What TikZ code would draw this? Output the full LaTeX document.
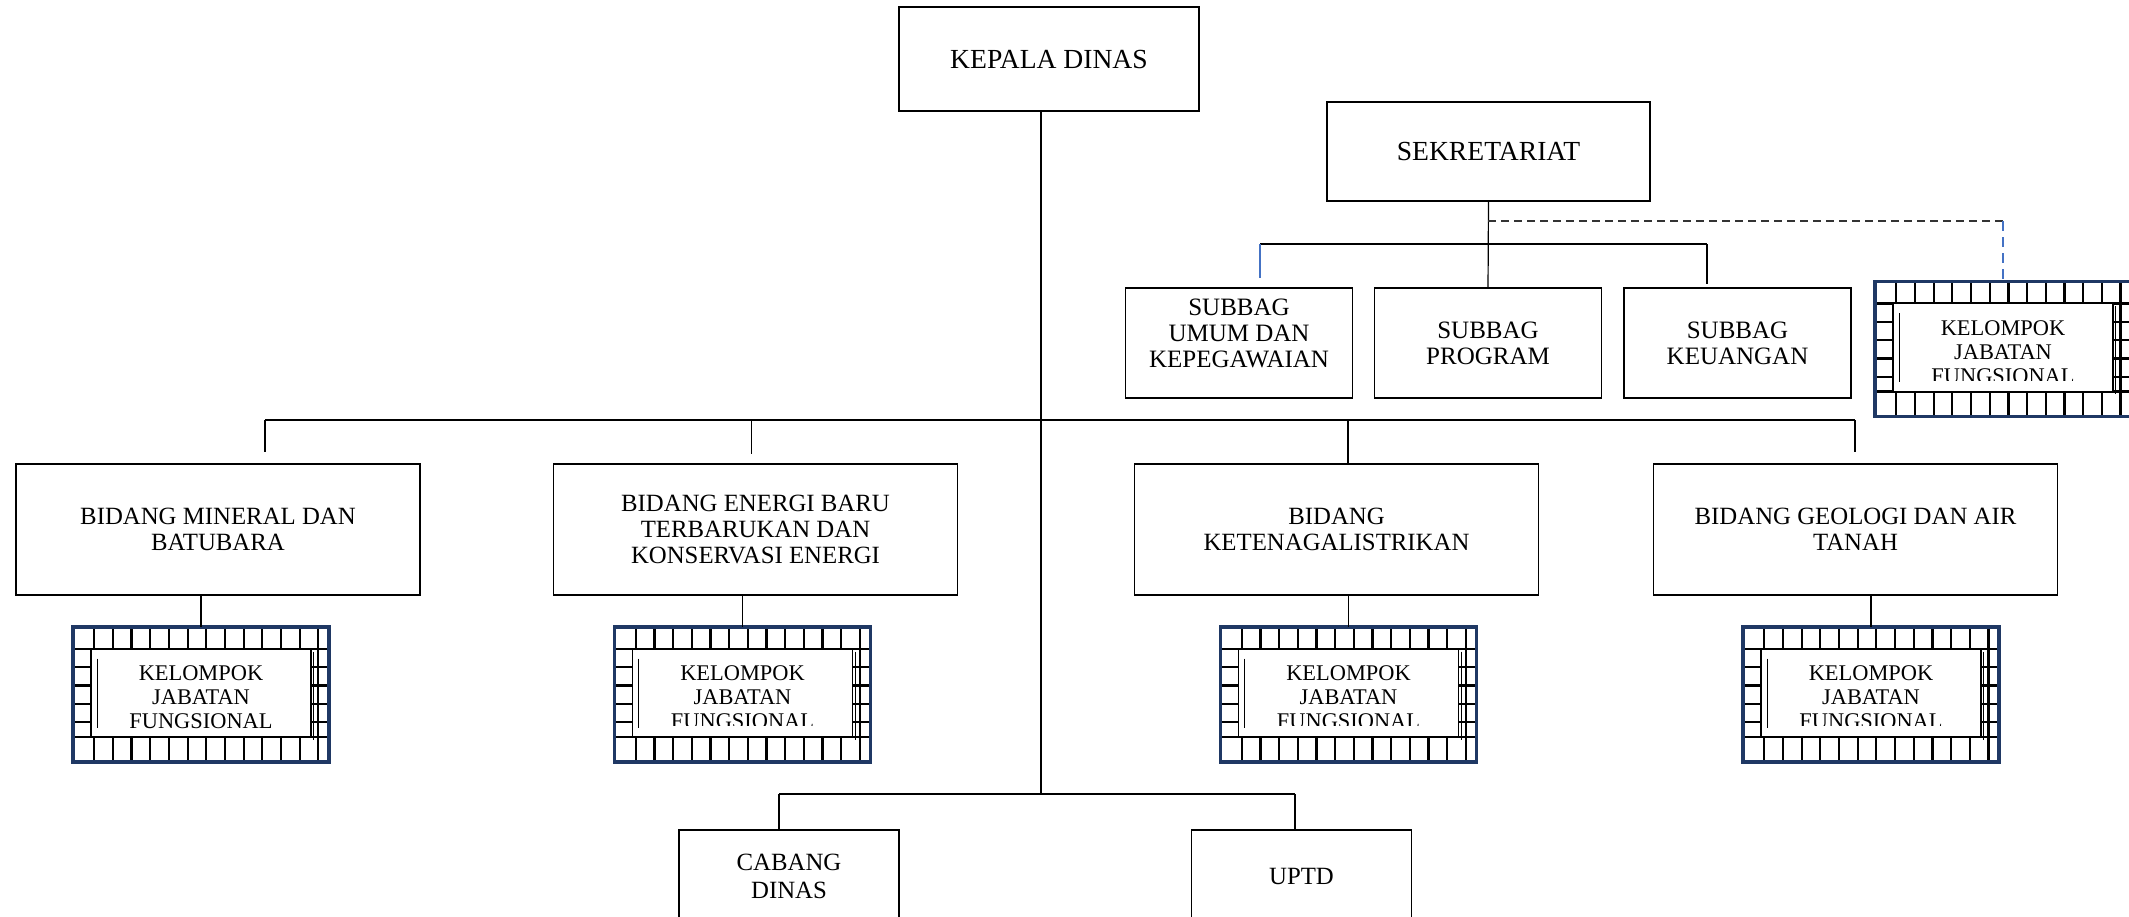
\documentclass[tikz,border=0pt]{standalone}
\usepackage{fontspec}
\setmainfont{Liberation Serif}
\usetikzlibrary{calc}
\definecolor{jfnavy}{RGB}{31,56,100}
\definecolor{jfblue}{RGB}{68,114,196}
% kelompok jabatan fungsional: name, centre, bottom of the text window
\def\jabfung[#1](#2,#3)(#4){%
  \node[jfframe] (#1) at (#2,#3) {};
  \begin{scope}
    \clip (#1.north west) rectangle (#1.south east);
    \foreach \i in {0,...,12}
      \draw[jfgrid] ($(#1.north west)+(21.3+\i*18.67,0)$) -- ++(0,135);
    \foreach \j in {0,...,4}
      \draw[jfgrid] ($(#1.north west)+(0,22+\j*18.3)$) -- ++(256,0);
    \draw[jfgrid] ($(#1.north west)+(0,110)$) -- ++(256,0);
  \end{scope}
  \draw[jfborder] (#1.north west) rectangle (#1.south east);
  \draw[jfinner] ($(#1.center)+(-110,-45.5)$) rectangle ($(#1.center)+(110,42.5)$);
  \draw[line width=0.5pt] ($(#1.center)+(112.5,-43)$) -- ++(0,88);
  \draw[line width=0.5pt] ($(#1.center)+(-104,-36)$) -- ++(0,69);
  \begin{scope}
    \clip ($(#1.center)+(-110,-45.5)$) rectangle ($(#1.center)+(110,#4)$);
    \node[jftext] (#1txt) at ($(#1.center)+(0,3)$) {KELOMPOK\\JABATAN\\FUNGSIONAL};
  \end{scope}
}

\begin{document}
\begin{tikzpicture}[x=0.5pt,y=-0.5pt,
    box/.style={draw,line width=0.7pt,inner sep=0pt,outer sep=0pt,align=center},
    topbox/.style={box,font=\fontsize{13.8}{16}\selectfont},
    subbox/.style={box,minimum width=113.5pt,minimum height=55pt,font=\fontsize{12.5}{13}\selectfont},
    bidbox/.style={box,minimum width=202pt,minimum height=65.5pt,font=\fontsize{12.4}{12.8}\selectfont},
    lowbox/.style={box,minimum width=110pt,minimum height=46pt,font=\fontsize{12.4}{14}\selectfont},
    jfframe/.style={rectangle,fill=white,inner sep=0pt,outer sep=0pt,minimum width=128pt,minimum height=67.5pt},
    jfgrid/.style={line width=1.15pt,black},
    jfborder/.style={line width=1.8pt,jfnavy},
    jfinner/.style={line width=0.8pt,fill=white},
    jftext/.style={align=center,inner sep=0pt,font=\fontsize{11.2}{12}\selectfont},
    link/.style={line width=0.6pt}]
  %%%%% START %%%%%
  \clip (0,0) rectangle (2129,916);

  \node[topbox,minimum width=150pt,minimum height=52pt] (kepala) at (1049,59) {KEPALA DINAS};
  \node[topbox,minimum width=161.5pt,minimum height=49.5pt] (sekretariat) at (1488.5,151.5) {SEKRETARIAT};

  \node[subbox,text depth=10pt] (umum) at (1239,343) {SUBBAG\\UMUM DAN\\KEPEGAWAIAN};
  \node[subbox] (program) at (1488,343) {SUBBAG\\PROGRAM};
  \node[subbox] (keuangan) at (1737.5,343) {SUBBAG\\KEUANGAN};
  \jabfung[jfsekre](2003,349)(31)

  \node[bidbox] (mineral) at (218,529.5) {BIDANG MINERAL DAN\\BATUBARA};
  \node[bidbox] (energi) at (755.5,529.5) {BIDANG ENERGI BARU\\TERBARUKAN DAN\\KONSERVASI ENERGI};
  \node[bidbox] (listrik) at (1336.5,529.5) {BIDANG\\KETENAGALISTRIKAN};
  \node[bidbox] (geologi) at (1855.5,529.5) {BIDANG GEOLOGI DAN AIR\\TANAH};

  \jabfung[jfmineral](201,694.5)(42.5)
  \jabfung[jfenergi](742.5,694.5)(30.5)
  \jabfung[jflistrik](1348.5,694.5)(30.5)
  \jabfung[jfgeologi](1871,694.5)(30.5)

  \node[lowbox] (cabang) at (789,876) {CABANG\\DINAS};
  \node[lowbox] (uptd) at (1301.5,876) {UPTD};

  % garis komando
  \coordinate (trunk) at (1041,794);
  \coordinate (busL) at (265,420);
  \coordinate (busR) at (1855,420);
  \draw[link] (kepala.south -| trunk) -- (trunk);
  \draw[link] (busL) -- (busR);
  \draw[link,shorten >=6pt] (busL) -- (busL |- mineral.north);
  \draw[link,shorten >=5pt] ([xshift=-2pt]energi.north |- busL) -- ([xshift=-2pt]energi.north);
  \draw[link] ([xshift=5.75pt]listrik.north |- busL) -- ([xshift=5.75pt]listrik.north);
  \draw[link,shorten >=6pt] (busR) -- (busR |- geologi.north);

  \draw[link] (mineral.south -| jfmineral.north) -- (jfmineral.north);
  \draw[link] (energi.south -| jfenergi.north) -- (jfenergi.north);
  \draw[link] (listrik.south -| jflistrik.north) -- (jflistrik.north);
  \draw[link] (geologi.south -| jfgeologi.north) -- (jfgeologi.north);

  % sekretariat
  \coordinate (sbusL) at (1260,244);
  \coordinate (sbusR) at (1707,244);
  \coordinate (dash) at (1488,221);
  \draw[link] (sekretariat.south) -- (program.north);
  \draw[link] (sbusL) -- (sbusR);
  \draw[link,jfblue,shorten >=5pt] (sbusL) -- (sbusL |- umum.north);
  \draw[link,shorten >=2pt] (sbusR) -- (sbusR |- keuangan.north);
  \draw[link,black!80,dash pattern=on 4pt off 2.5pt] (dash) -- (dash -| jfsekre.north);
  \draw[link,jfblue,dash pattern=on 5pt off 3pt] (dash -| jfsekre.north) -- (jfsekre.north);

  % cabang dan uptd
  \coordinate (lbusL) at (779,794);
  \coordinate (lbusR) at (1295,794);
  \draw[link] (lbusL) -- (lbusR);
  \draw[link] (lbusL) -- (lbusL |- cabang.north);
  \draw[link] (lbusR) -- (lbusR |- uptd.north);
  %%%%% START %%%%%
\end{tikzpicture}
\end{document}
